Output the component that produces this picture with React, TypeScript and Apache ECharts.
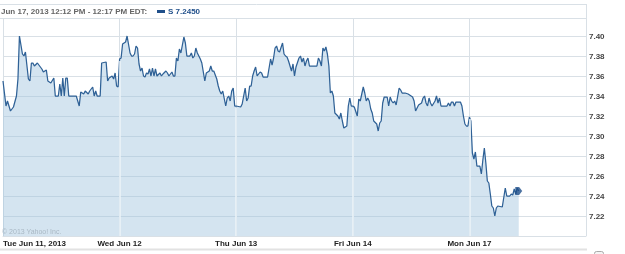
import React, { useEffect, useRef } from "react";
import * as echarts from "echarts";

// x positions are 5-minute bars from the 9:30 open (78 bars per trading day)
const BARS_PER_DAY = 78;
const dayLabels = ["Tue Jun 11, 2013", "Wed Jun 12", "Thu Jun 13", "Fri Jun 14", "Mon Jun 17"];

const tue: [number, number][] = [[0,7.355],[2,7.330],[3,7.335],[4,7.330],[5,7.325],[7,7.329],[9,7.340],[10,7.357],[11,7.400],[13,7.382],[14,7.380],[15,7.384],[17,7.357],[18,7.355],[19,7.373],[20,7.373],[21,7.370],[23,7.373],[26,7.367],[27,7.364],[29,7.366],[30,7.355],[32,7.353],[34,7.358],[35,7.340],[37,7.340],[38,7.352],[39,7.340],[40,7.358],[41,7.340],[42,7.358],[43,7.358],[44,7.340],[49,7.340],[51,7.330],[52,7.344],[54,7.342],[55,7.345],[57,7.342],[58,7.345],[60,7.349],[61,7.340],[62,7.345],[63,7.340],[65,7.340],[66,7.373],[69,7.374],[70,7.355],[71,7.358],[73,7.360],[74,7.357],[75,7.363],[76,7.350],[77,7.349]];
const wed: [number, number][] = [[0,7.377],[1,7.378],[2,7.392],[4,7.394],[5,7.400],[7,7.383],[8,7.380],[9,7.380],[10,7.382],[11,7.390],[12,7.388],[13,7.372],[14,7.365],[15,7.368],[16,7.360],[17,7.359],[18,7.363],[19,7.362],[20,7.367],[21,7.360],[22,7.368],[23,7.360],[24,7.367],[25,7.360],[27,7.363],[28,7.360],[29,7.362],[31,7.365],[32,7.363],[33,7.360],[35,7.364],[36,7.360],[37,7.360],[38,7.378],[39,7.375],[40,7.387],[41,7.383],[43,7.399],[44,7.393],[45,7.380],[47,7.380],[48,7.383],[49,7.378],[50,7.380],[51,7.388],[52,7.383],[54,7.377],[55,7.373],[57,7.355],[58,7.363],[60,7.365],[61,7.370],[62,7.365],[63,7.365],[65,7.357],[66,7.350],[67,7.345],[68,7.342],[69,7.345],[71,7.330],[72,7.338],[73,7.340],[74,7.335],[75,7.345],[76,7.348],[77,7.330]];
const thu: [number, number][] = [[0,7.330],[3,7.329],[4,7.332],[6,7.348],[7,7.335],[8,7.338],[9,7.350],[10,7.350],[11,7.360],[12,7.365],[13,7.369],[14,7.360],[16,7.364],[17,7.363],[18,7.359],[21,7.359],[23,7.377],[24,7.371],[25,7.378],[26,7.388],[27,7.390],[28,7.385],[29,7.384],[31,7.393],[32,7.382],[33,7.380],[34,7.379],[35,7.375],[37,7.365],[38,7.372],[39,7.360],[40,7.369],[42,7.378],[43,7.380],[44,7.374],[45,7.378],[46,7.370],[47,7.375],[48,7.378],[49,7.370],[54,7.370],[55,7.378],[56,7.375],[57,7.370],[58,7.388],[59,7.385],[60,7.389],[61,7.382],[62,7.370],[63,7.343],[64,7.345],[65,7.340],[66,7.323],[68,7.320],[69,7.317],[70,7.323],[71,7.315],[72,7.308],[74,7.310],[75,7.330],[76,7.338],[77,7.330]];
const fri: [number, number][] = [[0,7.330],[1,7.329],[3,7.320],[4,7.337],[5,7.335],[6,7.342],[7,7.349],[8,7.343],[9,7.335],[10,7.338],[11,7.335],[12,7.327],[13,7.323],[14,7.315],[16,7.312],[17,7.305],[18,7.313],[19,7.315],[20,7.333],[21,7.339],[23,7.339],[24,7.330],[25,7.339],[26,7.335],[27,7.333],[28,7.335],[29,7.331],[31,7.348],[32,7.346],[33,7.343],[35,7.343],[37,7.342],[40,7.339],[41,7.335],[42,7.325],[44,7.331],[46,7.333],[47,7.338],[48,7.340],[49,7.333],[50,7.330],[51,7.338],[52,7.333],[53,7.330],[55,7.335],[56,7.340],[57,7.333],[58,7.338],[59,7.330],[63,7.330],[64,7.333],[65,7.330],[66,7.334],[67,7.334],[68,7.330],[69,7.334],[72,7.334],[73,7.330],[74,7.320],[75,7.312],[76,7.310],[77,7.310]];
const mon: [number, number][] = [[0,7.319],[1,7.315],[2,7.283],[3,7.277],[4,7.284],[5,7.270],[7,7.270],[8,7.262],[9,7.276],[10,7.288],[11,7.273],[12,7.255],[13,7.253],[14,7.242],[15,7.230],[16,7.228],[17,7.220],[18,7.228],[19,7.230],[22,7.229],[24,7.248],[25,7.240],[27,7.240],[28,7.242],[29,7.241],[30,7.247],[31,7.242],[32,7.248],[33,7.245]];

const days = [tue, wed, thu, fri, mon];
const Y_MIN = 7.2;
const Y_MAX = 7.4175;
const Y_STEP = 0.02;

const headerRange = "Jun 17, 2013 12:12 PM - 12:17 PM EDT:";
const ticker = "S";
const copyright = "\u00A9 2013 Yahoo! Inc.";

const FONT = '"Liberation Sans", Arial, sans-serif';
const GRID_COLOR = "#d9e0e6";
const LINE_COLOR = "#2f6196";
const DARK_BLUE = "#1f4f8a";

export default function App() {
  const ref = useRef<HTMLDivElement>(null);

  useEffect(() => {
    document.body.style.margin = "0";
    const chart = echarts.init(ref.current!, null, { renderer: "svg" });

    const points = days.flatMap((d, i) => d.map(([b, v]) => [i * BARS_PER_DAY + b, v]));
    const last = points[points.length - 1];

    const boundaries = [1, 2, 3, 4].map((i) => {
      const x = i * BARS_PER_DAY;
      const p = points.find((q) => q[0] === x)!;
      return [{ coord: [x, Y_MIN] }, { coord: [x, p[1] - 0.002] }];
    });

    const option: any = {
      animation: false,
      grid: { left: 0, right: 39, top: 18.5, bottom: 18 },
      xAxis: {
        type: "value",
        min: 0,
        max: BARS_PER_DAY * dayLabels.length,
        interval: BARS_PER_DAY,
        axisLine: { show: true, lineStyle: { color: GRID_COLOR } },
        axisTick: { show: false },
        axisLabel: {
          margin: 3,
          fontSize: 8,
          fontWeight: "bold",
          fontFamily: FONT,
          color: "#222",
          alignMinLabel: "left",
          showMaxLabel: false,
          formatter: (v: number) => dayLabels[Math.round(v / BARS_PER_DAY)] ?? "",
        },
        splitLine: { show: true, lineStyle: { color: GRID_COLOR, width: 1 } },
      },
      yAxis: {
        type: "value",
        position: "right",
        min: Y_MIN,
        max: Y_MAX,
        interval: Y_STEP,
        axisLine: { show: false },
        axisTick: { show: false },
        axisLabel: {
          margin: 3,
          fontSize: 8,
          fontWeight: "bold",
          fontFamily: FONT,
          color: "#444",
          showMinLabel: false,
          showMaxLabel: false,
          formatter: (v: number) => v.toFixed(2),
        },
        splitLine: { show: true, lineStyle: { color: GRID_COLOR, width: 1 } },
      },
      series: [
        {
          type: "line",
          data: points,
          showSymbol: false,
          symbol: "none",
          lineStyle: { color: LINE_COLOR, width: 1.25 },
          areaStyle: { color: "rgba(160,195,222,0.45)", opacity: 1, origin: "start" },
          z: 3,
          markLine: {
            silent: true,
            symbol: ["none", "none"],
            label: { show: false },
            lineStyle: { color: "#eef4f8", width: 1.5, type: "solid" },
            data: boundaries,
          },
        },
        {
          type: "scatter",
          data: [last],
          symbol: "path://M0,0 L5,0 L9,5 L5,10 L0,10 Z",
          symbolSize: [7, 8],
          itemStyle: { color: DARK_BLUE },
          z: 5,
        },
      ],
      graphic: [
        { type: "line", shape: { x1: 0, y1: 4.5, x2: 587, y2: 4.5 }, style: { stroke: GRID_COLOR, lineWidth: 1 } },
        { type: "line", shape: { x1: 586.5, y1: 4, x2: 586.5, y2: 236 }, style: { stroke: GRID_COLOR, lineWidth: 1 } },
        { type: "line", shape: { x1: 0, y1: 18.5, x2: 587, y2: 18.5 }, style: { stroke: GRID_COLOR, lineWidth: 1 } },
        {
          type: "text",
          x: 1,
          y: 11.5,
          style: { text: headerRange, fill: "#666", fontSize: 8, fontWeight: "bold", fontFamily: FONT, verticalAlign: "middle" },
        },
        { type: "rect", shape: { x: 157, y: 10, width: 8, height: 3 }, style: { fill: DARK_BLUE } },
        {
          type: "text",
          x: 168,
          y: 11.5,
          style: {
            text: `${ticker} ${last[1].toFixed(4)}`,
            fill: DARK_BLUE,
            fontSize: 8,
            fontWeight: "bold",
            fontFamily: FONT,
            verticalAlign: "middle",
          },
        },
        {
          type: "text",
          x: 2,
          y: 231,
          z: 10,
          style: { text: copyright, fill: "#a9b8c4", fontSize: 7, fontFamily: FONT, verticalAlign: "middle" },
        },
        { type: "rect", shape: { x: 0, y: 248.5, width: 587, height: 2 }, style: { fill: "#e2e2e2" } },
        { type: "rect", shape: { x: 594.5, y: 251.5, width: 9, height: 8, r: 2 }, style: { fill: "#f4f4f4", stroke: "#aaa", lineWidth: 1 } },
      ],
    };

    chart.setOption(option);
    return () => chart.dispose();
  }, []);

  return (
    <div
      ref={ref}
      style={{ position: "fixed", left: 0, top: 0, width: 625, height: 254 }}
    />
  );
}
